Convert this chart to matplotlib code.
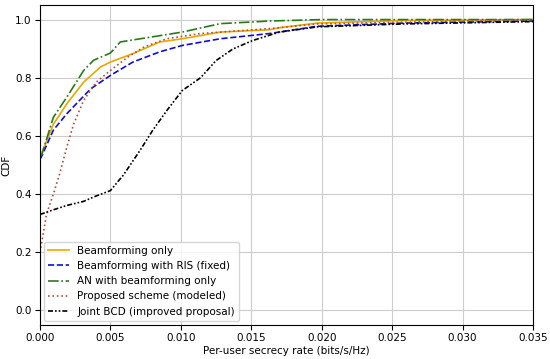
import matplotlib.pyplot as plt
import numpy as np

# ============================================================
# CDF of per-user secrecy rate
# ============================================================

x_bf = [0.0, 0.00012, 0.00095, 0.0019, 0.0031, 0.0043, 0.005, 0.0066, 0.0085, 0.0101,
        0.0128, 0.0163, 0.017, 0.0197, 0.0258, 0.035]
y_bf = [0.53, 0.54, 0.64, 0.71, 0.785, 0.837, 0.854, 0.883, 0.923, 0.934,
        0.957, 0.965, 0.972, 0.988, 0.997, 1.0]

x_ris = [0.0, 0.00012, 0.00095, 0.0019, 0.0036, 0.005, 0.0066, 0.0085, 0.0101, 0.0128,
         0.0163, 0.0197, 0.0258, 0.035]
y_ris = [0.52, 0.53, 0.62, 0.676, 0.762, 0.808, 0.854, 0.889, 0.911, 0.934,
         0.952, 0.977, 0.988, 0.995]

x_an = [0.0, 0.00012, 0.00095, 0.0019, 0.0031, 0.0038, 0.005, 0.0057, 0.0101, 0.0128,
        0.0163, 0.02, 0.035]
y_an = [0.53, 0.535, 0.664, 0.733, 0.825, 0.86, 0.885, 0.923, 0.957, 0.986,
        0.995, 1.0, 1.0]

x_prop = [0.0, 0.00047, 0.00095, 0.0014, 0.0019, 0.0024, 0.0031, 0.004, 0.005, 0.0062,
          0.0074, 0.009, 0.0114, 0.0163, 0.0197, 0.035]
y_prop = [0.2, 0.332, 0.40, 0.47, 0.561, 0.642, 0.722, 0.785, 0.825, 0.87,
          0.906, 0.934, 0.952, 0.969, 0.985, 1.0]

x_bcd = [0.0, 0.00095, 0.0019, 0.0031, 0.0038, 0.005, 0.0056, 0.0059, 0.0071, 0.008,
         0.009, 0.0101, 0.0114, 0.0125, 0.0137, 0.0151, 0.017, 0.0197, 0.0258, 0.035]
y_bcd = [0.33, 0.346, 0.361, 0.375, 0.39, 0.412, 0.447, 0.464, 0.55, 0.619,
         0.687, 0.756, 0.80, 0.859, 0.899, 0.928, 0.957, 0.975, 0.985, 0.993]

labels = ['Beamforming only', 'Beamforming with RIS (fixed)', 'AN with beamforming only',
          'Proposed scheme (modeled)', 'Joint BCD (improved proposal)']

fig = plt.figure(figsize=(5.5, 3.59), dpi=100)
ax = fig.add_axes([0.0727, 0.0947, 0.8963, 0.8913])

ax.plot(x_bf, y_bf, color='#e8a800', linestyle='-', linewidth=1.2, label=labels[0])
ax.plot(x_ris, y_ris, color='#1010c8', linestyle='--', linewidth=1.2, label=labels[1])
ax.plot(x_an, y_an, color='#2a7a1a', linestyle='-.', linewidth=1.2, label=labels[2])
ax.plot(x_prop, y_prop, color='#b8503a', linestyle=':', linewidth=1.2, label=labels[3])
ax.plot(x_bcd, y_bcd, color='black', linestyle=(0, (3, 1.2, 1, 1.2, 1, 1.2)),
        linewidth=1.2, label=labels[4])

ax.set_xlim(0, 0.035)
ax.set_ylim(-0.05, 1.05)
ax.set_xticks(np.arange(0, 0.0351, 0.005))
ax.set_xticklabels([f'{v:.3f}' for v in np.arange(0, 0.0351, 0.005)])
ax.set_yticks([0.0, 0.2, 0.4, 0.6, 0.8, 1.0])
ax.tick_params(labelsize=7.5, pad=2.5)
ax.set_xlabel('Per-user secrecy rate (bits/s/Hz)', fontsize=7.5, labelpad=2)
ax.set_ylabel('CDF', fontsize=7.5, labelpad=3)
ax.grid(True, color='#cccccc', linewidth=0.8)
ax.legend(loc='lower left', fontsize=7.5, borderaxespad=0.4)

plt.savefig('out.png', dpi=100)
